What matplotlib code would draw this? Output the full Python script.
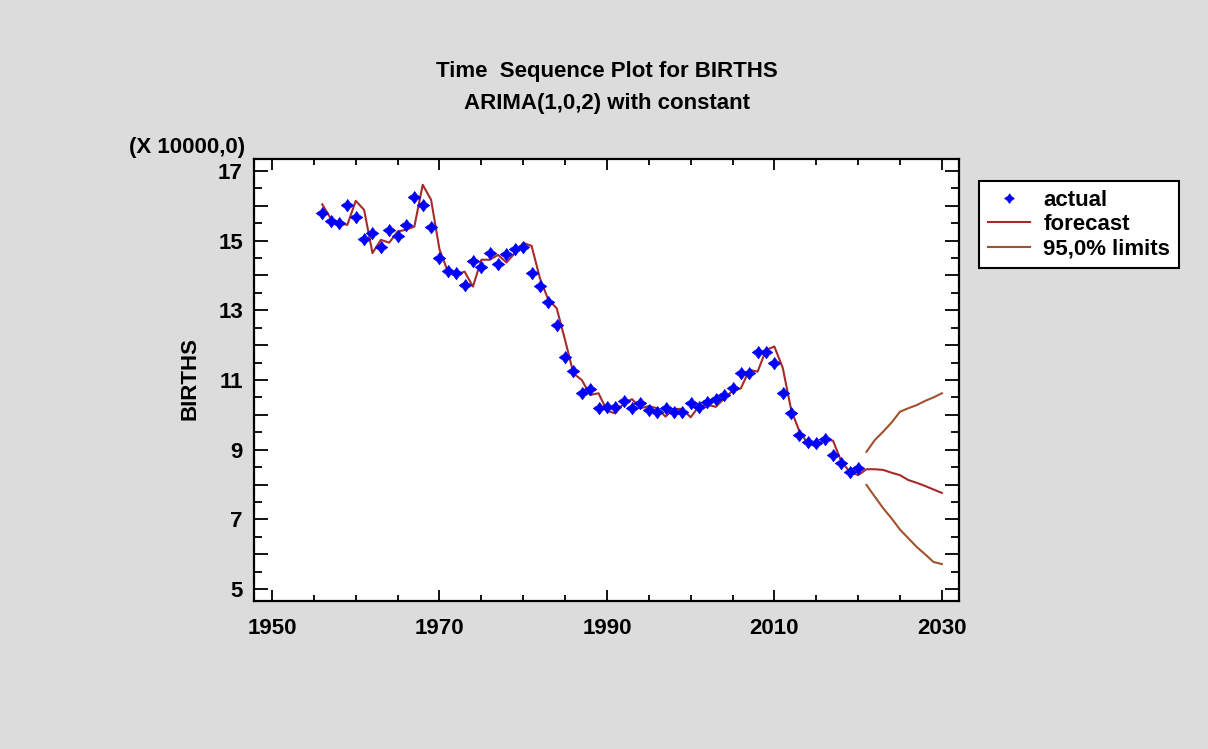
import numpy as np
import matplotlib.pyplot as plt
from matplotlib.ticker import MultipleLocator, FixedLocator, FuncFormatter

plt.rcParams['font.family'] = ['Liberation Sans', 'DejaVu Sans']
plt.rcParams['font.weight'] = 'bold'

# actual births (x 10000), 1956-2020
actual_years = np.arange(1956, 2021)
actual = [15.79, 15.57, 15.50, 16.02, 15.67, 15.05, 15.21, 14.81, 15.31, 15.13,
          15.45, 16.25, 16.02, 15.38, 14.49, 14.13, 14.06, 13.73, 14.40, 14.24,
          14.65, 14.34, 14.62, 14.75, 14.81, 14.06, 13.70, 13.25, 12.58, 11.65,
          11.27, 10.62, 10.73, 10.19, 10.22, 10.22, 10.41, 10.19, 10.35, 10.14,
          10.09, 10.19, 10.07, 10.09, 10.33, 10.23, 10.36, 10.46, 10.57, 10.76,
          11.19, 11.19, 11.80, 11.80, 11.50, 10.62, 10.04, 9.42, 9.23, 9.18,
          9.30, 8.85, 8.61, 8.35, 8.47]

# one-step forecasts 1956-2020, then forecasts 2021-2030
forecast_years = np.arange(1956, 2031)
forecast = [16.04, 15.64, 15.50, 15.45, 16.14, 15.88, 14.64, 15.02, 14.94, 15.26,
            15.31, 15.40, 16.60, 16.17, 14.75, 14.11, 14.02, 14.11, 13.68, 14.45,
            14.45, 14.59, 14.37, 14.64, 14.93, 14.85, 13.92, 13.30, 13.06, 12.15,
            11.19, 11.00, 10.57, 10.62, 10.12, 10.04, 10.33, 10.45, 10.19, 10.25,
            10.19, 9.95, 10.17, 10.17, 9.93, 10.25, 10.29, 10.23, 10.47, 10.69,
            10.76, 11.29, 11.24, 11.86, 11.96, 11.35, 10.15, 9.52, 9.18, 9.09,
            9.30, 9.26, 8.66, 8.37, 8.27, 8.44, 8.44, 8.42, 8.34, 8.27,
            8.13, 8.05, 7.96, 7.86, 7.76]

# 95% limits 2021-2030
limit_years = np.arange(2021, 2031)
upper = [8.94, 9.28, 9.52, 9.78, 10.09, 10.19, 10.28, 10.40, 10.50, 10.62]
lower = [7.99, 7.65, 7.32, 7.03, 6.71, 6.46, 6.21, 6.00, 5.78, 5.72]

x_ticks = [1950, 1970, 1990, 2010, 2030]

W, H = 1208, 749
fig = plt.figure(figsize=(W / 100, H / 100), dpi=100, facecolor='#dcdcdc')
ax = fig.add_axes([254 / W, 1 - 601 / H, (959 - 254) / W, (601 - 159) / H])
ax.set_facecolor('white')

# four point star like the original marker
star = [(0, 1), (0.42, 0.42), (1, 0), (0.42, -0.42), (0, -1), (-0.42, -0.42), (-1, 0), (-0.42, 0.42)]

ax.plot(actual_years, actual, linestyle='none', marker=star, markersize=9,
        color='#0000ff', markeredgewidth=0.5, label='actual', zorder=3)
ax.plot(forecast_years, forecast, color='#a52a2a', lw=1.5, label='forecast', zorder=2)
ax.plot(limit_years, upper, color='#a0522d', lw=1.5, label='95,0% limits', zorder=2)
ax.plot(limit_years, lower, color='#a0522d', lw=1.5, zorder=2)

ax.set_xlim(1947.85, 2032.05)
ax.set_ylim(4.66, 17.34)

ax.xaxis.set_major_locator(FixedLocator(x_ticks))
ax.xaxis.set_minor_locator(MultipleLocator(5))
ax.yaxis.set_major_locator(MultipleLocator(1))
ax.yaxis.set_minor_locator(MultipleLocator(0.5))
ax.yaxis.set_major_formatter(FuncFormatter(lambda v, p: f'{v:.0f}' if round(v) % 2 == 1 else ''))

ax.tick_params(which='both', direction='in', top=True, right=True, width=1.3,
               labelsize=16, colors='black')
ax.tick_params(axis='x', which='major', length=8, pad=12)
ax.tick_params(axis='x', which='minor', length=4)
ax.tick_params(axis='y', which='major', length=10, pad=8)
ax.tick_params(axis='y', which='minor', length=6)
for sp in ax.spines.values():
    sp.set_linewidth(1.6)

cx = (254 + 959) / 2 / W
fig.text(cx, 1 - 71 / H, 'Time  Sequence Plot for BIRTHS', ha='center', va='center', fontsize=16, weight='bold')
fig.text(cx, 1 - 103 / H, 'ARIMA(1,0,2) with constant', ha='center', va='center', fontsize=16, weight='bold')
fig.text(245 / W, 1 - 148 / H, '(X 10000,0)', ha='right', va='center', fontsize=16, weight='bold')
fig.text(190 / W, 1 - 379 / H, 'BIRTHS', ha='center', va='center', rotation=90, fontsize=16, weight='bold')

leg = ax.legend(loc='upper left', bbox_to_anchor=(979 / W, 1 - 181 / H),
                bbox_transform=fig.transFigure, borderaxespad=0, frameon=True,
                fancybox=False, edgecolor='black', facecolor='white', framealpha=1,
                fontsize=16, handlelength=1.9, handletextpad=0.6, labelspacing=0.15,
                borderpad=0.4)
leg.get_frame().set_linewidth(1.5)
for t in leg.get_texts():
    t.set_fontweight('bold')
leg.legend_handles[0].set_markersize(7)

fig.savefig('out.png', dpi=100, facecolor=fig.get_facecolor())
